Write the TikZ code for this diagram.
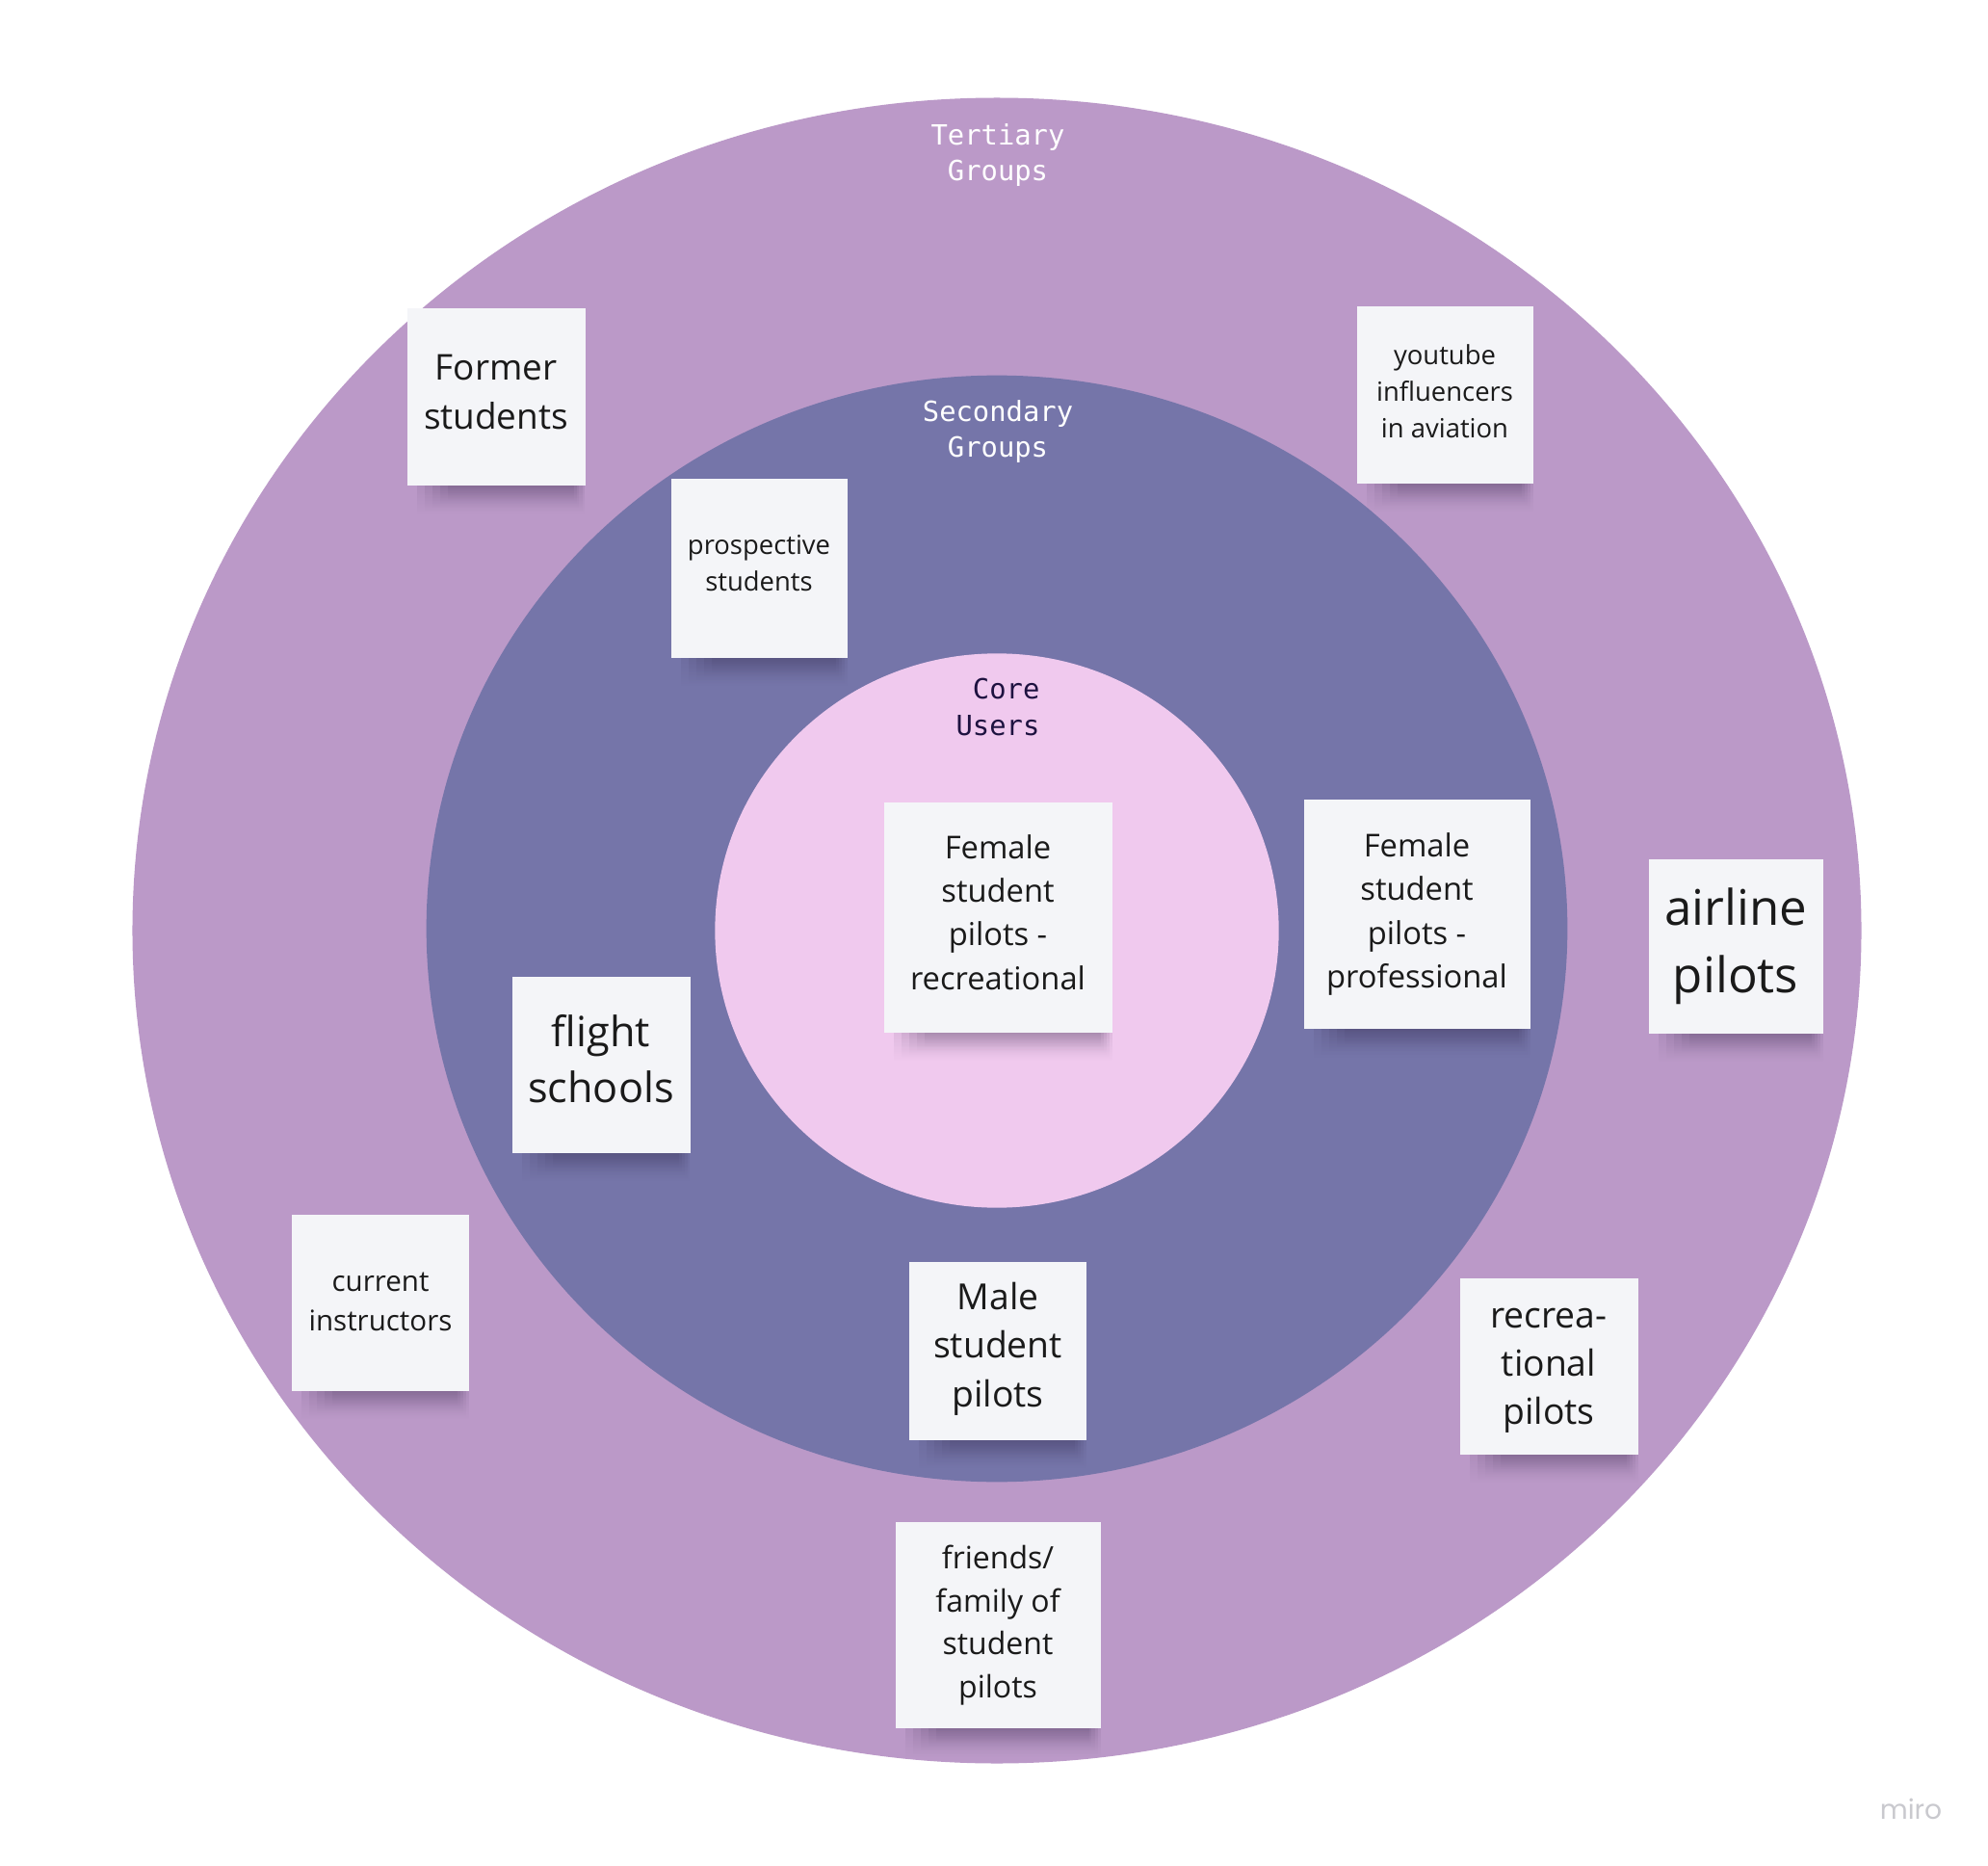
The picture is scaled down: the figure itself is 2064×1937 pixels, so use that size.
\documentclass[tikz,border=0pt]{standalone}
\usepackage{fontspec}
\setmainfont{Open Sans}
\newfontfamily\monof{DejaVu Sans Mono}
\newfontfamily\logof{Poppins}
\usetikzlibrary{fadings}
\definecolor{tertc}{HTML}{BB99C8}
\definecolor{secc}{HTML}{7575A9}
\definecolor{corec}{HTML}{F0C9EE}
\definecolor{notec}{HTML}{F4F5F8}
\definecolor{inkc}{HTML}{1A1A1A}
\definecolor{corelab}{HTML}{1E1240}
\definecolor{logoc}{HTML}{C9C9CE}
\definecolor{shadc}{HTML}{2A1E40}
\tikzset{
  note/.style={fill=notec, inner sep=0pt, align=center, text=inkc},
  notetext/.style={inner sep=0pt, align=center, text=inkc},
  grouplabel/.style={inner sep=0pt, align=center, font=\monof\fontsize{8.2}{10.8}\selectfont},
  noteshadow/.style={shadc, opacity=0.09, path fading=south}
}
% name, cx, cy, w, h, fontsize, baselineskip, text-offset-y
\newcommand\sticky[8]{%
  \foreach \sa/\sb/\sh in {10/0/30, 18/3/27, 26/6/23, 34/9/19, 42/12/15} {%
    \fill[noteshadow] (#2-#4/2+\sa, #3+#5/2-2) rectangle (#2+#4/2-\sb, #3+#5/2+\sh);}
  \node[note, minimum width=#4*0.01cm, minimum height=#5*0.01cm] (#1) at (#2,#3) {};
  \def\curfont{\fontsize{#6}{#7}\selectfont}%
  \def\curdy{#8}%
}
\newcommand\stickytext[2]{% name, text
  \node[notetext, font=\curfont] (#1-text) at ([yshift=-\curdy*0.01cm]#1.center) {#2};%
}
\begin{document}
\begin{tikzpicture}[x=0.01cm, y=-0.01cm]
\useasboundingbox (0,0) rectangle (2064,1937);
\fill[white] (0,0) rectangle (2064,1937);
% rings
\fill[tertc] (1035,966) ellipse [x radius=8.97cm, y radius=8.64cm];
\fill[secc]  (1035,964) ellipse [x radius=5.92cm, y radius=5.74cm];
\fill[corec] (1035,966) ellipse [x radius=2.925cm, y radius=2.875cm];
% ring labels
\node[grouplabel, text=white, anchor=base] (tert) at (1036,188) {Tertiary\\Groups};
\node[grouplabel, text=white, anchor=base] (sec) at (1036,475) {Secondary\\Groups};
\node[grouplabel, text=corelab, anchor=base] (core) at (1036,763) {\hphantom{U}Core\\Users};
% sticky notes
\sticky{former}{515}{412}{185}{184}{10.5}{14.3}{-5}
\stickytext{former}{Former\\students}
\sticky{youtube}{1500}{410}{183}{184}{7.8}{10.8}{-4}
\stickytext{youtube}{youtube\\influencers\\in aviation}
\sticky{prosp}{788}{590}{183}{185}{7.8}{10.8}{-5}
\stickytext{prosp}{prospective\\students}
\sticky{femrec}{1036}{952}{237}{239}{9.3}{12.9}{-5}
\stickytext{femrec}{Female\\student\\pilots -\\recreational}
\sticky{femprof}{1471}{949}{235}{238}{9.3}{12.9}{0}
\stickytext{femprof}{Female\\student\\pilots -\\professional}
\sticky{airline}{1802}{982}{181}{181}{14.5}{20}{0}
\stickytext{airline}{airline\\pilots}
\sticky{flight}{624}{1105}{185}{183}{12.3}{16.4}{-6}
\stickytext{flight}{flight\\schools}
\sticky{instr}{395}{1352}{184}{183}{8.4}{11.6}{-1}
\stickytext{instr}{current\\instructors}
\sticky{male}{1036}{1402}{184}{185}{10.6}{14.4}{-2}
\stickytext{male}{Male\\student\\pilots}
\sticky{recpil}{1608}{1418}{185}{183}{10.6}{14.2}{5}
\stickytext{recpil}{recrea-\\tional\\pilots}
\sticky{friends}{1036}{1687}{213}{214}{9.1}{12.7}{0}
\stickytext{friends}{friends/\\family of\\student\\pilots}
% watermark
\node[inner sep=0pt, anchor=base, text=logoc, font=\logof\fontsize{8}{9}\selectfont] (logo) at (1984,1888) {miro};
\end{tikzpicture}
\end{document}
